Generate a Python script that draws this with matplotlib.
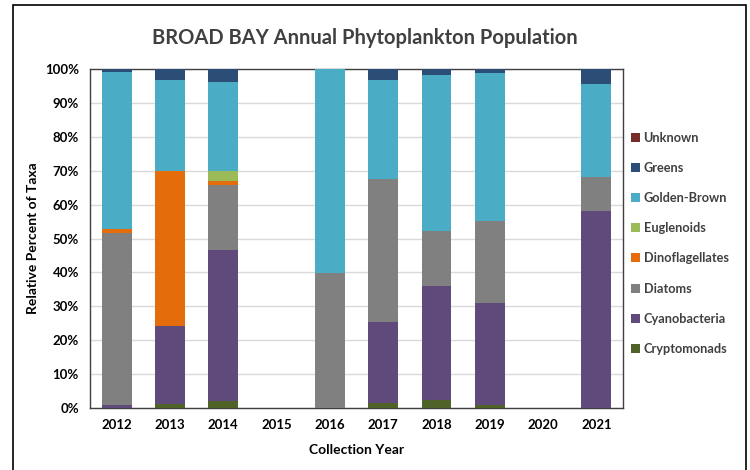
import matplotlib.pyplot as plt
from matplotlib.patches import Rectangle
import numpy as np

plt.rcParams['font.family'] = ['Lato', 'DejaVu Sans']

years = ['2012', '2013', '2014', '2015', '2016', '2017', '2018', '2019', '2020', '2021']

# percent of taxa per group, one value per year
cryptomonads    = [0.0, 1.2, 2.0, 0, 0.0, 1.5, 2.3, 0.8, 0, 0.0]
cyanobacteria   = [1.0, 22.9, 44.7, 0, 0.0, 23.8, 33.6, 30.1, 0, 58.0]
diatoms         = [50.6, 0.0, 19.0, 0, 39.8, 42.4, 16.4, 24.4, 0, 10.2]
dinoflagellates = [1.3, 45.9, 1.2, 0, 0.0, 0.0, 0.0, 0.0, 0, 0.0]
euglenoids      = [0.0, 0.0, 3.1, 0, 0.0, 0.0, 0.0, 0.0, 0, 0.0]
golden_brown    = [46.1, 26.9, 26.3, 0, 60.2, 29.0, 46.1, 43.5, 0, 27.3]
greens          = [1.0, 3.1, 3.7, 0, 0.0, 3.3, 1.6, 1.2, 0, 4.5]
unknown         = [0.0, 0.0, 0.0, 0, 0.0, 0.0, 0.0, 0.0, 0, 0.0]

series = [
    ('Cryptomonads', cryptomonads, '#4F6228'),
    ('Cyanobacteria', cyanobacteria, '#604A7B'),
    ('Diatoms', diatoms, '#808080'),
    ('Dinoflagellates', dinoflagellates, '#E46C0A'),
    ('Euglenoids', euglenoids, '#9BBB59'),
    ('Golden-Brown', golden_brown, '#4BACC6'),
    ('Greens', greens, '#2C4D75'),
    ('Unknown', unknown, '#772C2A'),
]

fig = plt.figure(figsize=(7.5, 4.7), dpi=100)
ax = fig.add_axes([0.12, 0.132, 0.7107, 0.721])

x = np.arange(len(years))
bottom = np.zeros(len(years))
handles = []
for name, vals, col in series:
    vals = np.array(vals, dtype=float)
    b = ax.bar(x, vals, 0.56, bottom=bottom, color=col, label=name, zorder=3)
    handles.append(b)
    bottom += vals

ax.set_xlim(-0.5, len(years) - 0.5)
ax.set_ylim(0, 100)
ax.set_yticks(range(0, 101, 10))
ax.set_yticklabels([f'{v}%' for v in range(0, 101, 10)])
ax.set_xticks(x)
ax.set_xticklabels(years)
ax.yaxis.grid(True, color='#D9D9D9', linewidth=1, zorder=0)
ax.tick_params(length=0, labelsize=9.5, pad=8)
for lab in ax.get_xticklabels() + ax.get_yticklabels():
    lab.set_fontweight('bold')
for s in ax.spines.values():
    s.set_color('#404040')
    s.set_linewidth(1)

ax.set_xlabel('Collection Year', fontsize=10, fontweight='bold', labelpad=9)
ax.set_ylabel('Relative Percent of Taxa', fontsize=10, fontweight='bold', labelpad=4)
fig.text(0.487, 0.919, 'BROAD BAY Annual Phytoplankton Population',
         ha='center', va='center', fontsize=14.5, fontweight='bold', color='#404040')

leg = ax.legend(handles[::-1], [s[0] for s in series][::-1],
                loc='upper left', bbox_to_anchor=(1.005, 0.83), frameon=False,
                fontsize=9.2, handlelength=0.7, handleheight=0.7, handletextpad=0.3,
                labelspacing=1.42, borderaxespad=0)
for t in leg.get_texts():
    t.set_fontweight('bold')
    t.set_color('#404040')

fig.patches.append(Rectangle((13 / 750, -0.01), (746 - 13) / 750, 1 - 5 / 470 + 0.01,
                             transform=fig.transFigure, fill=False,
                             edgecolor='black', linewidth=1.2))

fig.savefig('out.png', dpi=100)
